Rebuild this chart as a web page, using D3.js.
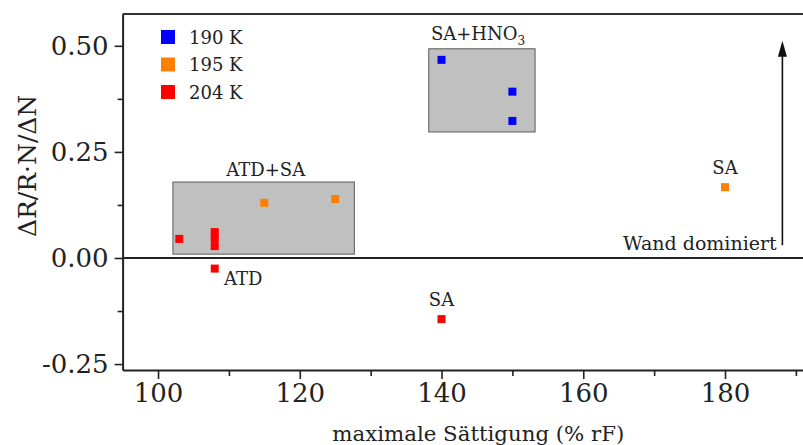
<!DOCTYPE html>
<html>
<head>
<meta charset="utf-8">
<script src="https://cdn.jsdelivr.net/npm/d3@7"></script>
<style>
  html, body { margin: 0; padding: 0; background: #fff; }
  svg { display: block; font-family: "DejaVu Serif", "Liberation Serif", serif; }
</style>
</head>
<body>
<svg id="chart" width="803" height="445"></svg>
<script>
// Measurement series: maximum saturation (% rF) vs. ΔR/R·N/ΔN, grouped by temperature
const series = ["190 K", "195 K", "204 K"];
const colors = ["#0000ff", "#ff8000", "#ff0000"];

const sat190 = [140, 150, 150];
const val190 = [0.467, 0.392, 0.323];

const sat195 = [115, 125, 180];
const val195 = [0.130, 0.139, 0.167];

const sat204 = [103, 108, 108, 108, 108, 140];
const val204 = [0.045, 0.061, 0.047, 0.028, -0.025, -0.144];

const xTicks = [100, 120, 140, 160, 180];
const xMinorTicks = [110, 130, 150, 170, 190];
const yTicks = [-0.25, 0.00, 0.25, 0.50];
const yMinorTicks = [-0.125, 0.125, 0.375];

// Shaded regions (data units): [x0, x1, y0, y1]
const boxATDSA = [102.1, 127.7, 0.009, 0.179];
const boxHNO3 = [138.2, 153.2, 0.297, 0.493];

const svg = d3.select("#chart");
const W = 803, H = 445;

const x = d3.scaleLinear().domain([95, 195]).range([122.6, 831.3]);
const y = d3.scaleLinear().domain([-0.264, 0.575]).range([370, 14]);

const ink = "#222";
const fs = 26;
const fmtY = v => d3.format(".2f")(v).replace("−", "-");

// Shaded boxes
[boxATDSA, boxHNO3].forEach(b => {
  svg.append("rect")
    .attr("x", x(b[0])).attr("y", y(b[3]))
    .attr("width", x(b[1]) - x(b[0])).attr("height", y(b[2]) - y(b[3]))
    .attr("fill", "#c0c0c0").attr("stroke", "#5a5a5a").attr("stroke-width", 1);
});

// Zero line
svg.append("line")
  .attr("x1", x(95)).attr("x2", W).attr("y1", y(0)).attr("y2", y(0))
  .attr("stroke", ink).attr("stroke-width", 2);

// Frame: top border
svg.append("line")
  .attr("x1", x(95)).attr("x2", W).attr("y1", y(0.575)).attr("y2", y(0.575))
  .attr("stroke", "#333").attr("stroke-width", 2.2);

// Axes
svg.append("g").attr("transform", `translate(0,${y(-0.264)})`)
  .call(d3.axisBottom(x).tickValues(xTicks).tickFormat(d3.format("d")).tickSize(9).tickSizeOuter(0).tickPadding(5));
svg.append("g").attr("transform", `translate(0,${y(-0.264)})`)
  .call(d3.axisBottom(x).tickValues(xMinorTicks).tickFormat("").tickSize(6).tickSizeOuter(0))
  .call(g => g.select(".domain").remove());

svg.append("g").attr("transform", `translate(${x(95)},0)`)
  .call(d3.axisLeft(y).tickValues(yTicks).tickFormat(fmtY).tickSize(8).tickSizeOuter(0).tickPadding(6));
svg.append("g").attr("transform", `translate(${x(95)},0)`)
  .call(d3.axisLeft(y).tickValues(yMinorTicks).tickFormat("").tickSize(5).tickSizeOuter(0))
  .call(g => g.select(".domain").remove());

svg.selectAll(".domain").attr("stroke", ink).attr("stroke-width", 2);
svg.selectAll(".tick line").attr("stroke", ink).attr("stroke-width", 1.6);
svg.selectAll(".tick text").attr("fill", "#222").attr("font-size", fs)
  .attr("font-family", "DejaVu Serif, serif");

// Axis titles
svg.append("text")
  .attr("x", x(145.2)).attr("y", 441)
  .attr("text-anchor", "middle").attr("font-size", 21.3).attr("fill", "#222")
  .text("maximale Sättigung (% rF)");
svg.append("text")
  .attr("transform", `translate(36,${y(0.25) + 14}) rotate(-90)`)
  .attr("text-anchor", "middle").attr("font-size", 25).attr("fill", "#222")
  .text("ΔR/R·N/ΔN");

// Data markers
const groups = [
  { xs: sat190, ys: val190, c: colors[0] },
  { xs: sat195, ys: val195, c: colors[1] },
  { xs: sat204, ys: val204, c: colors[2] }
];
const ms = 8;
groups.forEach(g => {
  svg.append("g").selectAll("rect")
    .data(g.xs.map((v, i) => [v, g.ys[i]]))
    .join("rect")
    .attr("x", d => x(d[0]) - ms / 2).attr("y", d => y(d[1]) - ms / 2)
    .attr("width", ms).attr("height", ms)
    .attr("fill", g.c);
});

// Legend
const lg = svg.append("g").attr("transform", "translate(161,30)");
series.forEach((s, i) => {
  const row = lg.append("g").attr("transform", `translate(0,${i * 27.5})`);
  row.append("rect").attr("width", 14).attr("height", 14).attr("fill", colors[i]);
  row.append("text").attr("x", 28).attr("y", 13.5)
    .attr("font-size", 18).attr("fill", "#222").text(s);
});

// Annotations (data units)
const notes = [
  { t: "ATD+SA", x: 115.2, y: 0.193, a: "middle" },
  { t: "SA", x: 180, y: 0.198, a: "middle" },
  { t: "ATD", x: 109.3, y: -0.064, a: "start" },
  { t: "SA", x: 140, y: -0.113, a: "middle" },
  { t: "Wand dominiert", x: 187.3, y: 0.019, a: "end" }
];
notes.forEach(n => {
  svg.append("text").attr("x", x(n.x)).attr("y", y(n.y))
    .attr("text-anchor", n.a).attr("font-size", n.t === "Wand dominiert" ? 19 : 18)
    .attr("fill", "#222").text(n.t);
});
const hno = svg.append("text").attr("x", x(138.5)).attr("y", y(0.514))
  .attr("font-size", 18).attr("fill", "#222");
hno.append("tspan").text("SA+HNO");
hno.append("tspan").attr("font-size", 12).attr("dy", 5).text("3");

// Arrow
const arrowX = 188.1, arrowY0 = 0.03, arrowY1 = 0.512;
svg.append("line")
  .attr("x1", x(arrowX)).attr("x2", x(arrowX))
  .attr("y1", y(arrowY0)).attr("y2", y(arrowY1) + 12)
  .attr("stroke", "#111").attr("stroke-width", 1.6);
svg.append("path")
  .attr("d", `M${x(arrowX)},${y(arrowY1)} l-4.5,16 l9,0 z`)
  .attr("fill", "#111");
</script>
</body>
</html>
